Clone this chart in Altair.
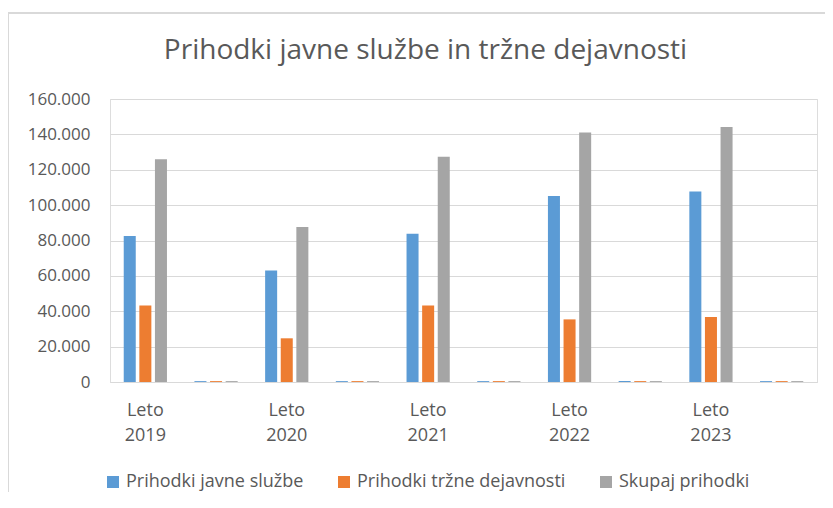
import altair as alt
import pandas as pd

categories = ["Leto 2019", "–1", "Leto 2020", "–2", "Leto 2021", "–3",
              "Leto 2022", "–4", "Leto 2023", "–5"]
series = ["Prihodki javne službe", "Prihodki tržne dejavnosti", "Skupaj prihodki"]
javne = [82500, 500, 63100, 500, 83800, 500, 105100, 500, 107700, 500]
trzne = [43300, 500, 24700, 500, 43300, 500, 35400, 500, 36700, 500]
skupaj = [126000, 500, 87600, 500, 127300, 500, 141000, 500, 144200, 500]
y_ticks = [0, 20000, 40000, 60000, 80000, 100000, 120000, 140000, 160000]
colors = ["#5B9BD5", "#ED7D31", "#A5A5A5"]

rows = []
for name, vals in zip(series, [javne, trzne, skupaj]):
    for c, v in zip(categories, vals):
        rows.append({"cat": c, "serija": name, "vrednost": v})
df = pd.DataFrame(rows)

FONT = "Open Sans"
TXT = "#595959"
W, H = 707, 283

bars = alt.Chart(df).mark_bar().encode(
    x=alt.X("cat:N", sort=categories,
            scale=alt.Scale(domain=categories, paddingInner=0, paddingOuter=0),
            axis=alt.Axis(title=None, labelAngle=0, ticks=False,
                          domainColor="#d9d9d9", domainWidth=1,
                          labelExpr="indexof(datum.value, 'Leto') == 0 ? split(datum.value, ' ') : ''",
                          labelFont=FONT, labelFontSize=18, labelColor=TXT,
                          labelLineHeight=25, labelPadding=19)),
    xOffset=alt.XOffset("serija:N", sort=series,
                        scale=alt.Scale(domain=series, paddingInner=0.23, paddingOuter=0.88)),
    y=alt.Y("vrednost:Q",
            scale=alt.Scale(domain=[0, 160000], nice=False),
            axis=alt.Axis(title=None, values=y_ticks, domain=False, ticks=False,
                          gridColor="#d9d9d9", gridWidth=1,
                          labelExpr="replace(format(datum.value, ','), ',', '.')",
                          labelFont=FONT, labelFontSize=17, labelColor=TXT,
                          labelPadding=20)),
    color=alt.Color("serija:N", sort=series,
                    scale=alt.Scale(domain=series, range=colors),
                    legend=alt.Legend(title=None, orient="none", direction="horizontal",
                                      legendX=-6, legendY=374,
                                      symbolType="square", symbolSize=144,
                                      symbolStrokeWidth=0, labelLimit=400,
                                      labelFont=FONT, labelFontSize=18, labelColor=TXT,
                                      labelOffset=4, columnPadding=31, padding=0)),
)

border_top = alt.Chart(pd.DataFrame({"k": [0]})).mark_rule(color="#d9d9d9", strokeWidth=2).encode(
    x=alt.value(-102), x2=alt.value(W + 10), y=alt.value(-86))
border_left = alt.Chart(pd.DataFrame({"k": [0]})).mark_rule(color="#d9d9d9", strokeWidth=2).encode(
    x=alt.value(-102), y=alt.value(-86), y2=alt.value(H + 112))

chart = alt.layer(bars, border_top, border_left).properties(
    width=W, height=H,
    autosize=alt.AutoSizeParams(type="none"),
    padding={"left": 102, "top": 91, "right": 8, "bottom": 110},
    title=alt.Title("Prihodki javne službe in tržne dejavnosti",
                    font=FONT, fontSize=28, fontWeight="normal", color=TXT,
                    anchor="middle", dx=-38, offset=-75, baseline="alphabetic"),
).configure_view(stroke=None).configure(background="white")

chart.save("out.html", embed_options={"renderer": "svg", "actions": False})
